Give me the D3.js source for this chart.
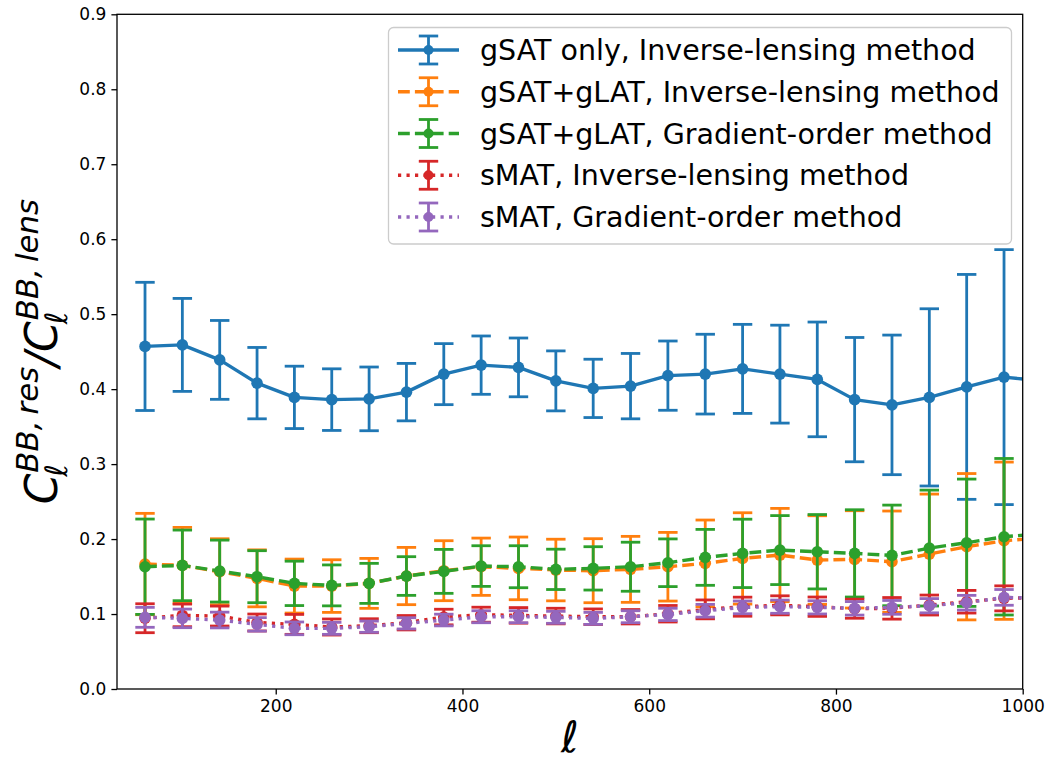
<!DOCTYPE html>
<html>
<head>
<meta charset="utf-8">
<script src="https://cdn.jsdelivr.net/npm/d3@7"></script>
<style>
  body { margin: 0; background: #fff; }
  text { font-family: "DejaVu Sans", sans-serif; }
</style>
</head>
<body>
<svg id="chart" width="1051" height="762"></svg>
<script>
// Multipole bin centres
const ells = [60, 100, 140, 180, 220, 260, 300, 340, 380, 420, 460, 500, 540,
              580, 620, 660, 700, 740, 780, 820, 860, 900, 940, 980, 1020];

// Residual-to-lensing B-mode power ratio and its 1-sigma spread, per method
const gsatInvVal = [0.457, 0.459, 0.439, 0.408, 0.389, 0.386, 0.387, 0.396, 0.420, 0.432, 0.429, 0.411, 0.401,
                    0.404, 0.418, 0.420, 0.427, 0.420, 0.413, 0.386, 0.379, 0.389, 0.403, 0.416, 0.411];
const gsatInvErr = [0.0855, 0.062, 0.0526, 0.0476, 0.0416, 0.0411, 0.0425, 0.0383, 0.0407, 0.0389, 0.0392, 0.040, 0.0389,
                    0.0436, 0.0462, 0.0532, 0.0594, 0.0653, 0.0765, 0.0829, 0.0931, 0.1182, 0.150, 0.170, 0.19];

const glatInvVal = [0.1667, 0.1649, 0.1564, 0.1476, 0.1373, 0.1373, 0.1409, 0.1507, 0.1578, 0.1631, 0.1609, 0.1587, 0.1578,
                    0.1596, 0.1631, 0.1676, 0.1742, 0.1787, 0.172, 0.1729, 0.1698, 0.180, 0.1898, 0.1978, 0.2014];
const glatInvErr = [0.0676, 0.0507, 0.044, 0.038, 0.036, 0.0351, 0.0333, 0.0382, 0.040, 0.0382, 0.0418, 0.0411, 0.0427,
                    0.044, 0.0458, 0.0578, 0.0609, 0.0622, 0.0591, 0.0649, 0.0676, 0.080, 0.0976, 0.1049, 0.11];

const glatGradVal = [0.1631, 0.1649, 0.1573, 0.1498, 0.1409, 0.1382, 0.1409, 0.1507, 0.1569, 0.164, 0.1631, 0.1596, 0.1609,
                     0.1631, 0.1684, 0.1756, 0.1809, 0.1853, 0.1831, 0.1809, 0.1782, 0.188, 0.1951, 0.2031, 0.207];
const glatGradErr = [0.0636, 0.0471, 0.0413, 0.0347, 0.0296, 0.0273, 0.0267, 0.0258, 0.0293, 0.0271, 0.028, 0.0269, 0.0289,
                     0.0327, 0.0318, 0.0373, 0.0456, 0.046, 0.0496, 0.0582, 0.0671, 0.0773, 0.0849, 0.1044, 0.11];

const smatInvVal = [0.0944, 0.0982, 0.0973, 0.0887, 0.0862, 0.0827, 0.0844, 0.0884, 0.096, 0.0991, 0.0982, 0.0973, 0.0964,
                    0.0964, 0.1004, 0.1062, 0.1098, 0.1116, 0.1098, 0.1071, 0.1076, 0.112, 0.1164, 0.1209, 0.122];
const smatInvErr = [0.0193, 0.0151, 0.0133, 0.0113, 0.0133, 0.0107, 0.0093, 0.0096, 0.0104, 0.010, 0.0104, 0.0104, 0.0104,
                    0.0096, 0.011, 0.0126, 0.0127, 0.0127, 0.0129, 0.0127, 0.0144, 0.0133, 0.0151, 0.0167, 0.018];

const smatGradVal = [0.0956, 0.0942, 0.092, 0.0862, 0.0809, 0.0809, 0.0831, 0.0876, 0.092, 0.0964, 0.0964, 0.0956, 0.0942,
                     0.0964, 0.0995, 0.1044, 0.1089, 0.1098, 0.1089, 0.1076, 0.1089, 0.1111, 0.1151, 0.1222, 0.121];
const smatGradErr = [0.0133, 0.0124, 0.0105, 0.009, 0.0085, 0.008, 0.0075, 0.0075, 0.0078, 0.008, 0.008, 0.008, 0.008,
                     0.008, 0.0082, 0.0085, 0.0085, 0.0088, 0.0088, 0.009, 0.0092, 0.0095, 0.0098, 0.0105, 0.011];

const seriesLabels = [
  "gSAT only, Inverse-lensing method",
  "gSAT+gLAT, Inverse-lensing method",
  "gSAT+gLAT, Gradient-order method",
  "sMAT, Inverse-lensing method",
  "sMAT, Gradient-order method"
];
const seriesColors = ["#1f77b4", "#ff7f0e", "#2ca02c", "#d62728", "#9467bd"];
const seriesDash = ["none", "11.8,5.1", "11.8,5.1", "3.2,5.3", "3.2,5.3"];

const xTicks = [200, 400, 600, 800, 1000];
const yTicks = [0.0, 0.1, 0.2, 0.3, 0.4, 0.5, 0.6, 0.7, 0.8, 0.9];

const series = [
  { vals: gsatInvVal, errs: gsatInvErr },
  { vals: glatInvVal, errs: glatInvErr },
  { vals: glatGradVal, errs: glatGradErr },
  { vals: smatInvVal, errs: smatInvErr },
  { vals: smatGradVal, errs: smatGradErr }
].map((s, i) => ({
  label: seriesLabels[i], color: seriesColors[i], dash: seriesDash[i],
  points: ells.map((l, j) => ({ l, v: s.vals[j], e: s.errs[j] }))
}));

// Layout
const svg = d3.select("#chart");
const plot = { left: 117, right: 1022.7, top: 14.3, bottom: 689 };
const x = d3.scaleLinear().domain([30, 1000]).range([plot.left, plot.right]);
const y = d3.scaleLinear().domain([0, 0.9]).range([plot.bottom, plot.top]);

const lineW = 3.4, barW = 2.8, capHalf = 9.7, markR = 5.8;

svg.append("defs").append("clipPath").attr("id", "plot-clip")
  .append("rect")
  .attr("x", plot.left).attr("y", plot.top)
  .attr("width", plot.right - plot.left).attr("height", plot.bottom - plot.top);

const marks = svg.append("g").attr("clip-path", "url(#plot-clip)");
const line = d3.line().x(d => x(d.l)).y(d => y(d.v));

series.forEach(s => {
  const g = marks.append("g");
  const bars = g.selectAll("g.bar").data(s.points).join("g").attr("class", "bar")
    .attr("stroke", s.color).attr("stroke-width", barW);
  bars.append("line")
    .attr("x1", d => x(d.l)).attr("x2", d => x(d.l))
    .attr("y1", d => y(d.v - d.e)).attr("y2", d => y(d.v + d.e));
  bars.append("line")
    .attr("x1", d => x(d.l) - capHalf).attr("x2", d => x(d.l) + capHalf)
    .attr("y1", d => y(d.v + d.e)).attr("y2", d => y(d.v + d.e));
  bars.append("line")
    .attr("x1", d => x(d.l) - capHalf).attr("x2", d => x(d.l) + capHalf)
    .attr("y1", d => y(d.v - d.e)).attr("y2", d => y(d.v - d.e));
  g.append("path").datum(s.points)
    .attr("d", line).attr("fill", "none")
    .attr("stroke", s.color).attr("stroke-width", lineW)
    .attr("stroke-dasharray", s.dash === "none" ? null : s.dash)
    .attr("stroke-linejoin", "round");
  g.selectAll("circle").data(s.points).join("circle")
    .attr("cx", d => x(d.l)).attr("cy", d => y(d.v)).attr("r", markR)
    .attr("fill", s.color);
});

// Axes
const xAxis = d3.axisBottom(x).tickValues(xTicks).tickFormat(d3.format("d"))
  .tickSize(5.6).tickPadding(5);
const yAxis = d3.axisLeft(y).tickValues(yTicks).tickFormat(d3.format(".1f"))
  .tickSize(5.6).tickPadding(5);

const gx = svg.append("g").attr("transform", `translate(0,${plot.bottom})`).call(xAxis);
const gy = svg.append("g").attr("transform", `translate(${plot.left},0)`).call(yAxis);
[gx, gy].forEach(g => {
  g.select(".domain").remove();
  g.selectAll(".tick line").attr("stroke", "#000").attr("stroke-width", 1.3);
  g.selectAll(".tick text").attr("fill", "#000")
    .style("font-family", "'DejaVu Sans'").style("font-size", "17px");
});

svg.append("rect")
  .attr("x", plot.left).attr("y", plot.top)
  .attr("width", plot.right - plot.left).attr("height", plot.bottom - plot.top)
  .attr("fill", "none").attr("stroke", "#000").attr("stroke-width", 1.3);

// Axis labels
svg.append("text")
  .attr("x", (plot.left + plot.right) / 2).attr("y", 752)
  .attr("text-anchor", "middle")
  .style("font-size", "43px").style("font-style", "italic")
  .text("ℓ");

// y label: C_ℓ^{BB,res} / C_ℓ^{BB,lens}, laid out piece by piece
const fs = 44, fsSmall = fs * 0.7;
const yl = svg.append("g");
let cursor = 0;
function piece(txt, size, dy) {
  const t = yl.append("text").attr("x", cursor).attr("y", dy)
    .style("font-size", size + "px").style("font-style", "italic").text(txt);
  return t;
}
function ratioTerm(sup) {
  const c = piece("C", fs, 0);
  const wc = c.node().getComputedTextLength();
  const base = cursor + wc;
  cursor = base + 1;
  const s = piece(sup, fsSmall, -0.44 * fs);
  const ws = s.node().getComputedTextLength();
  cursor = base - 3;
  const sb = piece("ℓ", fsSmall, 0.22 * fs);
  const wsb = sb.node().getComputedTextLength();
  cursor = Math.max(base + 1 + ws, base - 3 + wsb);
}
ratioTerm("BB,\u2009res");
const slash = piece("/", fs, 0);
cursor += slash.node().getComputedTextLength();
ratioTerm("BB,\u2009lens");
const total = cursor;
yl.attr("transform", `translate(57,${(plot.top + plot.bottom) / 2}) rotate(-90) translate(${-total / 2},0)`);

// Legend
const lg = svg.append("g");
const lgBox = { x: 388.5, y: 27.5, w: 623, h: 216.5 };
lg.append("rect")
  .attr("x", lgBox.x).attr("y", lgBox.y).attr("width", lgBox.w).attr("height", lgBox.h)
  .attr("rx", 5).attr("ry", 5)
  .attr("fill", "#fff").attr("fill-opacity", 0.8)
  .attr("stroke", "#cccccc").attr("stroke-width", 1.3);

const rowY = d3.scaleLinear().domain([0, 4]).range([50, 217]);
series.forEach((s, i) => {
  const cy = rowY(i);
  const h = lg.append("g");
  h.append("line").attr("x1", 398).attr("x2", 459).attr("y1", cy).attr("y2", cy)
    .attr("stroke", s.color).attr("stroke-width", lineW)
    .attr("stroke-dasharray", s.dash === "none" ? null : s.dash);
  const hx = 428.5, hh = 14;
  h.append("line").attr("x1", hx).attr("x2", hx).attr("y1", cy - hh).attr("y2", cy + hh)
    .attr("stroke", s.color).attr("stroke-width", barW);
  [cy - hh, cy + hh].forEach(yy => {
    h.append("line").attr("x1", hx - capHalf).attr("x2", hx + capHalf).attr("y1", yy).attr("y2", yy)
      .attr("stroke", s.color).attr("stroke-width", barW);
  });
  h.append("circle").attr("cx", hx).attr("cy", cy).attr("r", 5).attr("fill", s.color);
  lg.append("text").attr("x", 480).attr("y", cy + 10)
    .style("font-size", "28.5px").attr("fill", "#000").text(s.label);
});
</script>
</body>
</html>
